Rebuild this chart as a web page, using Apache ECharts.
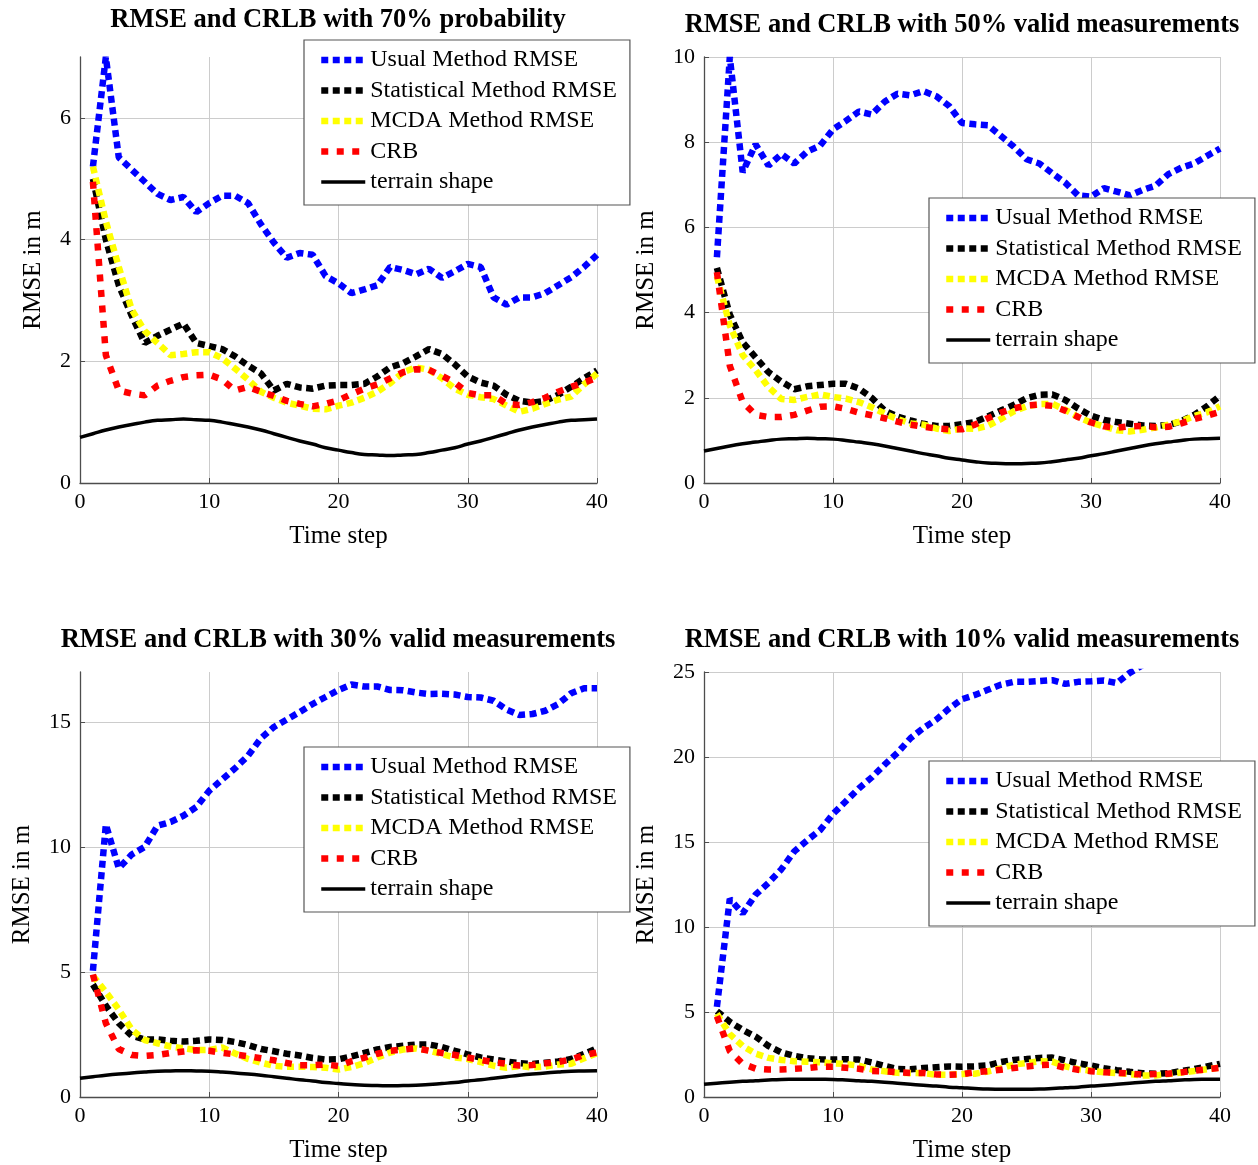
<!DOCTYPE html>
<html>
<head>
<meta charset="utf-8">
<title>RMSE and CRLB</title>
<script src="https://cdn.jsdelivr.net/npm/echarts@6/dist/echarts.min.js"></script>
<style>
  html, body { margin: 0; padding: 0; background: #fff; }
  #chart { width: 1258px; height: 1165px; }
</style>
</head>
<body>
<div id="chart"></div>
<script>
// time steps of the filters and of the terrain curve
var steps = [1,2,3,4,5,6,7,8,9,10,11,12,13,14,15,16,17,18,19,20,21,22,23,24,25,26,27,28,29,30,31,32,33,34,35,36,37,38,39,40];
var terrainSteps = [0,1,2,3,4,5,6,7,8,9,10,11,12,13,14,15,16,17,18,19,20,21,22,23,24,25,26,27,28,29,30,31,32,33,34,35,36,37,38,39,40];
var terrain = [0.75,0.81,0.87,0.92,0.96,1.0,1.03,1.04,1.05,1.04,1.03,1.0,0.96,0.92,0.87,0.81,0.75,0.69,0.64,0.58,0.54,0.5,0.47,0.46,0.45,0.46,0.47,0.5,0.54,0.58,0.64,0.69,0.75,0.81,0.87,0.92,0.96,1.0,1.03,1.04,1.05];

var names = ['Usual Method RMSE', 'Statistical Method RMSE', 'MCDA Method RMSE', 'CRB', 'terrain shape'];

// 70% probability
var usual70 = [5.2,7.0,5.35,5.15,4.95,4.75,4.65,4.7,4.45,4.6,4.72,4.72,4.6,4.25,3.95,3.7,3.78,3.75,3.4,3.28,3.12,3.18,3.25,3.55,3.5,3.43,3.52,3.37,3.48,3.6,3.55,3.05,2.93,3.05,3.05,3.12,3.25,3.38,3.55,3.75];
var stat70 = [5.0,4.0,3.25,2.75,2.3,2.42,2.52,2.62,2.3,2.25,2.2,2.08,1.93,1.8,1.52,1.63,1.57,1.55,1.6,1.61,1.61,1.63,1.75,1.9,1.97,2.08,2.2,2.12,1.95,1.75,1.65,1.6,1.45,1.35,1.32,1.35,1.45,1.58,1.72,1.85];
var mcda70 = [5.2,4.3,3.55,2.85,2.5,2.3,2.1,2.12,2.15,2.15,2.05,1.88,1.7,1.5,1.4,1.32,1.27,1.22,1.21,1.27,1.32,1.4,1.5,1.64,1.82,1.9,1.86,1.72,1.55,1.45,1.41,1.38,1.27,1.17,1.22,1.3,1.37,1.42,1.62,1.8];
var crb70 = [4.95,2.1,1.52,1.47,1.44,1.6,1.68,1.74,1.77,1.78,1.7,1.52,1.58,1.5,1.43,1.35,1.3,1.26,1.3,1.36,1.46,1.55,1.62,1.72,1.82,1.87,1.86,1.76,1.65,1.48,1.44,1.44,1.3,1.28,1.33,1.4,1.5,1.58,1.65,1.73];

// 50% valid measurements
var usual50 = [5.3,10.0,7.3,7.95,7.45,7.72,7.5,7.78,7.92,8.3,8.5,8.72,8.65,8.95,9.14,9.1,9.2,9.08,8.85,8.45,8.42,8.4,8.15,7.9,7.6,7.5,7.27,7.05,6.75,6.72,6.92,6.84,6.75,6.88,6.98,7.25,7.4,7.5,7.68,7.85];
var stat50 = [5.05,3.95,3.3,2.95,2.6,2.38,2.2,2.27,2.3,2.33,2.33,2.22,2.0,1.7,1.56,1.47,1.39,1.34,1.34,1.38,1.43,1.56,1.7,1.83,1.99,2.07,2.08,1.95,1.75,1.58,1.48,1.43,1.39,1.35,1.34,1.36,1.45,1.6,1.8,2.05];
var mcda50 = [4.85,3.7,3.0,2.65,2.25,1.97,1.95,2.02,2.08,2.02,1.98,1.9,1.78,1.63,1.5,1.4,1.37,1.28,1.22,1.28,1.27,1.34,1.5,1.68,1.8,1.85,1.86,1.72,1.55,1.42,1.33,1.24,1.21,1.25,1.3,1.37,1.45,1.57,1.66,1.8];
var crb50 = [4.95,2.75,1.9,1.6,1.55,1.55,1.6,1.7,1.79,1.8,1.74,1.65,1.59,1.52,1.44,1.37,1.32,1.28,1.26,1.26,1.37,1.52,1.65,1.75,1.82,1.84,1.81,1.7,1.55,1.42,1.33,1.3,1.33,1.34,1.31,1.32,1.4,1.5,1.58,1.67];

// 30% valid measurements
var usual30 = [5.05,10.9,9.15,9.7,10.0,10.85,11.0,11.25,11.6,12.25,12.7,13.15,13.65,14.35,14.8,15.1,15.4,15.72,16.0,16.28,16.5,16.42,16.42,16.28,16.27,16.18,16.12,16.13,16.1,16.0,15.98,15.85,15.5,15.28,15.32,15.45,15.72,16.15,16.35,16.35];
var stat30 = [4.5,3.65,2.95,2.45,2.3,2.3,2.25,2.22,2.25,2.3,2.28,2.2,2.08,1.92,1.83,1.73,1.66,1.56,1.5,1.51,1.62,1.76,1.9,2.0,2.05,2.1,2.1,2.0,1.85,1.7,1.58,1.5,1.42,1.35,1.32,1.37,1.42,1.52,1.72,1.95];
var mcda30 = [4.85,4.2,3.5,2.7,2.28,2.15,2.02,1.95,1.88,1.88,1.98,1.74,1.52,1.37,1.25,1.21,1.21,1.2,1.17,1.1,1.2,1.35,1.58,1.78,1.9,1.94,1.86,1.72,1.58,1.52,1.4,1.25,1.17,1.24,1.18,1.22,1.3,1.33,1.55,1.75];
var crb30 = [4.9,2.95,1.92,1.68,1.64,1.68,1.76,1.82,1.87,1.85,1.77,1.7,1.63,1.55,1.47,1.36,1.27,1.27,1.3,1.24,1.43,1.57,1.73,1.85,1.9,1.95,1.85,1.76,1.68,1.58,1.48,1.39,1.33,1.26,1.28,1.35,1.4,1.5,1.68,1.78];

// 10% valid measurements
var usual10 = [5.3,11.65,10.8,11.9,12.6,13.4,14.45,15.1,15.7,16.65,17.4,18.15,18.8,19.55,20.25,21.1,21.7,22.2,22.85,23.4,23.65,23.95,24.25,24.42,24.42,24.47,24.52,24.3,24.42,24.45,24.5,24.35,24.95,25.4,25.7,26.0,26.2,26.4,26.6,26.8];
var stat10 = [5.05,4.42,3.95,3.55,3.0,2.62,2.42,2.28,2.22,2.2,2.22,2.2,2.03,1.83,1.65,1.63,1.7,1.75,1.8,1.78,1.8,1.86,2.05,2.18,2.23,2.3,2.32,2.15,1.98,1.85,1.7,1.58,1.48,1.4,1.37,1.4,1.53,1.64,1.8,1.95];
var mcda10 = [4.9,3.7,3.0,2.55,2.3,2.18,2.1,2.07,2.05,1.98,1.94,1.84,1.62,1.51,1.42,1.41,1.4,1.31,1.31,1.36,1.37,1.5,1.68,1.9,2.0,2.1,2.08,1.8,1.64,1.55,1.45,1.41,1.35,1.27,1.27,1.35,1.44,1.53,1.63,1.73];
var crb10 = [4.75,2.7,1.95,1.67,1.62,1.62,1.66,1.7,1.78,1.78,1.72,1.66,1.53,1.51,1.46,1.41,1.41,1.33,1.31,1.34,1.45,1.52,1.6,1.71,1.8,1.88,1.9,1.72,1.6,1.52,1.46,1.42,1.38,1.31,1.35,1.37,1.45,1.55,1.63,1.72];

var panels = [
  { title: 'RMSE and CRLB with 70% probability', data: [usual70, stat70, mcda70, crb70], ymax: 7, step: 2,
    grid: { left: 80, top: 57, width: 517, height: 426 }, titleX: 333, titleY: 2, legend: { left: 304, top: 40 }, nameGap: 34 },
  { title: 'RMSE and CRLB with 50% valid measurements', data: [usual50, stat50, mcda50, crb50], ymax: 10, step: 2,
    grid: { left: 704, top: 57, width: 516, height: 426 }, titleX: 957, titleY: 7, legend: { left: 929, top: 198 }, nameGap: 45 },
  { title: 'RMSE and CRLB with 30% valid measurements', data: [usual30, stat30, mcda30, crb30], ymax: 17, step: 5,
    grid: { left: 80, top: 672, width: 517, height: 425 }, titleX: 333, titleY: 622, legend: { left: 304, top: 747 }, nameGap: 45 },
  { title: 'RMSE and CRLB with 10% valid measurements', data: [usual10, stat10, mcda10, crb10], ymax: 25, step: 5,
    grid: { left: 704, top: 672, width: 516, height: 425 }, titleX: 957, titleY: 622, legend: { left: 929, top: 761 }, nameGap: 45 }
];

var colors = ['#0000ff', '#000000', '#ffff00', '#ff0000', '#000000'];
var dots = [7, 4.5];
var crbDots = [7, 8.5];
var serif = 'Liberation Serif';
var axisColor = '#4d4d4d';
var gridColor = '#cccccc';

function pairs(xs, ys) {
  var out = [];
  for (var i = 0; i < ys.length; i++) out.push([xs[i], ys[i]]);
  return out;
}

var option = {
  animation: false,
  backgroundColor: '#ffffff',
  title: [], grid: [], xAxis: [], yAxis: [], legend: [], series: []
};

panels.forEach(function (p, i) {
  option.title.push({
    text: p.title, left: p.titleX, top: p.titleY, textAlign: 'center',
    textStyle: { fontFamily: serif, fontWeight: 'bold', fontSize: 26.5, color: '#000' }
  });
  option.grid.push(p.grid);
  option.xAxis.push({
    gridIndex: i, type: 'value', min: 0, max: 40, interval: 10,
    name: 'Time step', nameLocation: 'middle', nameGap: 41,
    nameTextStyle: { fontFamily: serif, fontSize: 25, color: '#000' },
    axisLine: { onZero: false, lineStyle: { color: axisColor, width: 1.3 } },
    axisTick: { inside: true, length: 5, lineStyle: { color: axisColor } },
    axisLabel: { fontFamily: serif, fontSize: 22, color: '#000', margin: 8 },
    splitLine: { show: true, lineStyle: { color: gridColor, width: 1 } }
  });
  option.yAxis.push({
    gridIndex: i, type: 'value', min: 0, max: p.ymax, interval: p.step,
    name: 'RMSE in m', nameLocation: 'middle', nameGap: p.nameGap,
    nameTextStyle: { fontFamily: serif, fontSize: 25, color: '#000' },
    axisLine: { show: true, lineStyle: { color: axisColor, width: 1.3 } },
    axisTick: { show: true, inside: true, length: 5, lineStyle: { color: axisColor } },
    axisLabel: { fontFamily: serif, fontSize: 22, color: '#000', margin: 9, showMaxLabel: p.ymax % p.step === 0 },
    splitLine: { show: true, showMaxLine: p.ymax % p.step === 0, lineStyle: { color: gridColor, width: 1 } }
  });
  option.legend.push({
    orient: 'vertical', left: p.legend.left, top: p.legend.top,
    itemWidth: 44, itemHeight: 14, itemGap: 6.5,
    padding: [8, 13, 11, 14],
    backgroundColor: '#ffffff', borderColor: '#555555', borderWidth: 1.2, borderRadius: 0,
    selectedMode: false,
    textStyle: { fontFamily: serif, fontSize: 24, lineHeight: 24, color: '#000' },
    data: names.map(function (n, k) {
      return {
        name: n,
        itemStyle: { color: 'rgba(0,0,0,0)', borderWidth: 0, opacity: 0 },
        lineStyle: k < 4
          ? { width: 6.5, type: k === 3 ? crbDots : dots, cap: 'butt', color: colors[k], opacity: 1 }
          : { width: 3.5, type: 'solid', color: colors[k], opacity: 1 }
      };
    })
  });
  p.data.forEach(function (vals, k) {
    option.series.push({
      name: names[k], type: 'line', xAxisIndex: i, yAxisIndex: i,
      data: pairs(steps, vals), showSymbol: false, symbol: 'none', clip: true,
      lineStyle: { color: colors[k], width: 6.5, type: k === 3 ? crbDots : dots, cap: 'butt' },
      itemStyle: { color: colors[k] }, z: 2 + k
    });
  });
  option.series.push({
    name: names[4], type: 'line', xAxisIndex: i, yAxisIndex: i,
    data: pairs(terrainSteps, terrain), showSymbol: false, symbol: 'none', smooth: true,
    lineStyle: { color: '#000', width: 3.5, type: 'solid' }, itemStyle: { color: '#000' }, z: 7
  });
});

var myChart = echarts.init(document.getElementById('chart'), null, { renderer: 'canvas' });
myChart.setOption(option);
</script>
</body>
</html>
